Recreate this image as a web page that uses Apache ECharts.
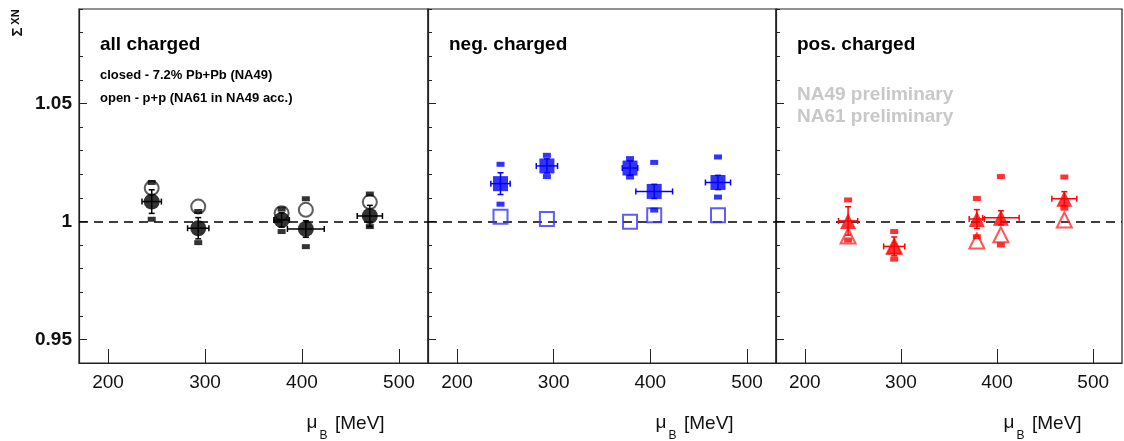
<!DOCTYPE html>
<html><head><meta charset="utf-8">
<script src="https://cdn.jsdelivr.net/npm/echarts@6/dist/echarts.min.js"></script>
<style>html,body{margin:0;padding:0;background:#fff}#c{width:1124px;height:441px}</style>
</head><body><div id="c"></div>
<script>
// ---- data ----
const muB = [245, 293, 379, 404, 470];
const muErr = [10, 11, 8, 19, 13];
const xTicks = [200, 300, 400, 500];
const yTicks = [0.95, 1, 1.05];
const panelTitles = ['all charged', 'neg. charged', 'pos. charged'];

const allFilled = [1.0084, 0.9971, 1.0006, 0.9968, 1.0023];
const allOpen   = [1.0141, 1.0063, 1.0035, 1.0049, 1.0082];
const allStat   = [0.0050, 0.0045, 0.0030, 0.0035, 0.0045];
const allSysHi  = [1.0165, 1.0042, 1.0052, 1.0096, 1.0116];
const allSysLo  = [1.0009, 0.9910, 0.9957, 0.9893, 0.9978];

const negFilled = [1.0160, 1.0235, 1.0226, 1.0127, 1.0165];
const negOpen   = [1.0020, 1.0010, 0.9998, 1.0026, 1.0026];
const negStat   = [0.0046, 0.0030, 0.0030, 0.0030, 0.0030];
const negSysHi  = [1.0242, 1.0280, 1.0266, 1.0250, 1.0273];
const negSysLo  = [1.0073, 1.0190, 1.0188, 1.0048, 1.0103];

const posFilled = [1.0002, 0.9894, 1.0010, 1.0015, 1.0096];
const posOpen   = [0.9938, 0.9895, 0.9917, 0.9943, 1.0006];
const posStat   = [0.0060, 0.0040, 0.0040, 0.0030, 0.0030];
const posSysHi  = [1.0091, 0.9957, 1.0097, 1.0190, 1.0188];
const posSysLo  = [0.9921, 0.9840, 0.9935, 0.9900, 1.0056];

// ---- layout / style ----
const FONT = '"Liberation Sans", Arial, sans-serif';
const gridLeft = [79, 428, 776];
const gridWidth = [349, 348, 346];
const TOP = 9, HEIGHT = 354;
const panels = [
  {filled: allFilled, open: allOpen, stat: allStat, hi: allSysHi, lo: allSysLo,
   color: '#000000', openColor: '#333333', symbol: 'circle', fSize: 16, oSize: 14},
  {filled: negFilled, open: negOpen, stat: negStat, hi: negSysHi, lo: negSysLo,
   color: '#0000ff', openColor: '#3535ff', symbol: 'rect', fSize: 15, oSize: 14},
  {filled: posFilled, open: posOpen, stat: posStat, hi: posSysHi, lo: posSysLo,
   color: '#ff0000', openColor: '#ff2a2a', symbol: 'triangle', fSize: 16, oSize: 15}
];

const grids = [], xAxes = [], yAxes = [], series = [], graphics = [];
panels.forEach((p, i) => {
  grids.push({left: gridLeft[i], top: TOP, width: gridWidth[i], height: HEIGHT,
    show: true, borderColor: '#222', borderWidth: 1.2, backgroundColor: 'transparent'});
  xAxes.push({gridIndex: i, type: 'value', min: 170, max: 530, position: 'bottom',
    axisLine: {show: true, lineStyle: {color: '#222', width: 1.2}},
    axisTick: {show: true, inside: true, length: 14, customValues: xTicks, lineStyle: {color: '#222', width: 1}},
    axisLabel: {customValues: xTicks, margin: 10, color: '#111', fontSize: 19, fontFamily: FONT},
    splitLine: {show: false}});
  yAxes.push({gridIndex: i, type: 'value', min: 0.94, max: 1.09, interval: 0.01, position: 'left', offset: 0,
    axisLine: {show: true, lineStyle: {color: '#222', width: 1.2}},
    axisTick: {show: true, inside: true, length: 4, lineStyle: {color: '#222', width: 1}},
    axisLabel: {show: false}, splitLine: {show: false}});
  yAxes.push({gridIndex: i, type: 'value', min: 0.94, max: 1.09, position: 'left', offset: 0,
    axisLine: {show: false},
    axisTick: {show: true, inside: true, length: 8, customValues: yTicks, lineStyle: {color: '#222', width: 1}},
    axisLabel: {show: i === 0, customValues: yTicks, margin: 7, color: '#111', fontSize: 19,
      fontWeight: 'bold', fontFamily: FONT},
    splitLine: {show: false}});

  const yi = 2 * i;
  // open markers + reference line
  series.push({type: 'scatter', xAxisIndex: i, yAxisIndex: yi, z: 2, silent: true,
    symbol: p.symbol, symbolSize: p.oSize,
    itemStyle: {color: 'rgba(255,255,255,0)', borderColor: p.openColor, borderWidth: 2},
    data: muB.map((m, k) => [m, p.open[k]]),
    markLine: {silent: true, symbol: ['none', 'none'], label: {show: false}, z: 1,
      lineStyle: {type: [9, 6], color: '#000', width: 1.5},
      data: [{yAxis: 1}]}
  });
  // systematic markers
  series.push({type: 'scatter', xAxisIndex: i, yAxisIndex: yi, z: 3, silent: true,
    symbol: 'rect', symbolSize: [8, 5], itemStyle: {color: p.color},
    data: muB.map((m, k) => [m, p.hi[k]]).concat(muB.map((m, k) => [m, p.lo[k]]))});
  // statistical error bars
  const col = p.color;
  series.push({type: 'custom', xAxisIndex: i, yAxisIndex: yi, z: 4, silent: true,
    encode: {x: 0, y: 1},
    data: muB.map((m, k) => [m, p.filled[k], muErr[k], p.stat[k]]),
    renderItem: function (params, api) {
      const x = api.value(0), y = api.value(1), ex = api.value(2), ey = api.value(3);
      const l = api.coord([x - ex, y]), r = api.coord([x + ex, y]);
      const t = api.coord([x, y + ey]), b = api.coord([x, y - ey]);
      const cap = 3;
      const st = {stroke: col, lineWidth: 1.5};
      const ln = (x1, y1, x2, y2) => ({type: 'line', shape: {x1, y1, x2, y2}, style: st});
      return {type: 'group', children: [
        ln(l[0], l[1], r[0], r[1]),
        ln(l[0], l[1] - cap, l[0], l[1] + cap),
        ln(r[0], r[1] - cap, r[0], r[1] + cap),
        ln(t[0], t[1], b[0], b[1]),
        ln(t[0] - cap, t[1], t[0] + cap, t[1]),
        ln(b[0] - cap, b[1], b[0] + cap, b[1])
      ]};
    }});
  // filled markers
  series.push({type: 'scatter', xAxisIndex: i, yAxisIndex: yi, z: 5, silent: true,
    symbol: p.symbol, symbolSize: p.fSize, itemStyle: {color: p.color},
    data: muB.map((m, k) => [m, p.filled[k]])});

  // panel title
  graphics.push({type: 'text', x: gridLeft[i] + 21, y: 44.5,
    style: {text: panelTitles[i], font: 'bold 19px ' + FONT, fill: '#000', align: 'left', verticalAlign: 'middle'}});
  // x-axis name: mu_B [MeV]
  const gx = gridLeft[i];
  graphics.push({type: 'text', x: gx + 233, y: 423,
    style: {text: 'μ', font: '19px ' + FONT, fill: '#111', align: 'center', verticalAlign: 'middle'}});
  graphics.push({type: 'text', x: gx + 244.5, y: 436,
    style: {text: 'B', font: '12px ' + FONT, fill: '#111', align: 'center', verticalAlign: 'middle'}});
  graphics.push({type: 'text', x: gx + 256, y: 424,
    style: {text: '[MeV]', font: '19px ' + FONT, fill: '#111', align: 'left', verticalAlign: 'middle'}});
});

// legend notes in first panel
graphics.push({type: 'text', x: 100, y: 75.5,
  style: {text: 'closed - 7.2% Pb+Pb (NA49)', font: 'bold 13px ' + FONT, fill: '#000', verticalAlign: 'middle'}});
graphics.push({type: 'text', x: 100, y: 98,
  style: {text: 'open - p+p (NA61 in NA49 acc.)', font: 'bold 13px ' + FONT, fill: '#000', verticalAlign: 'middle'}});
// preliminary labels
graphics.push({type: 'text', x: 797, y: 95,
  style: {text: 'NA49 preliminary', font: 'bold 19px ' + FONT, fill: '#c8c8c8', verticalAlign: 'middle'}});
graphics.push({type: 'text', x: 797, y: 117,
  style: {text: 'NA61 preliminary', font: 'bold 19px ' + FONT, fill: '#c8c8c8', verticalAlign: 'middle'}});
// y-axis name Sigma^XN (rotated)
graphics.push({type: 'text', x: 18, y: 32, rotation: Math.PI / 2,
  style: {text: 'Σ', font: 'bold 15px ' + FONT, fill: '#111', align: 'center', verticalAlign: 'middle'}});
graphics.push({type: 'text', x: 16, y: 17, rotation: Math.PI / 2,
  style: {text: 'XN', font: 'bold 11px ' + FONT, fill: '#111', align: 'center', verticalAlign: 'middle'}});

const chart = echarts.init(document.getElementById('c'), null, {renderer: 'canvas'});
chart.setOption({
  animation: false,
  backgroundColor: '#fff',
  grid: grids, xAxis: xAxes, yAxis: yAxes, series: series, graphic: graphics
});
</script></body></html>
